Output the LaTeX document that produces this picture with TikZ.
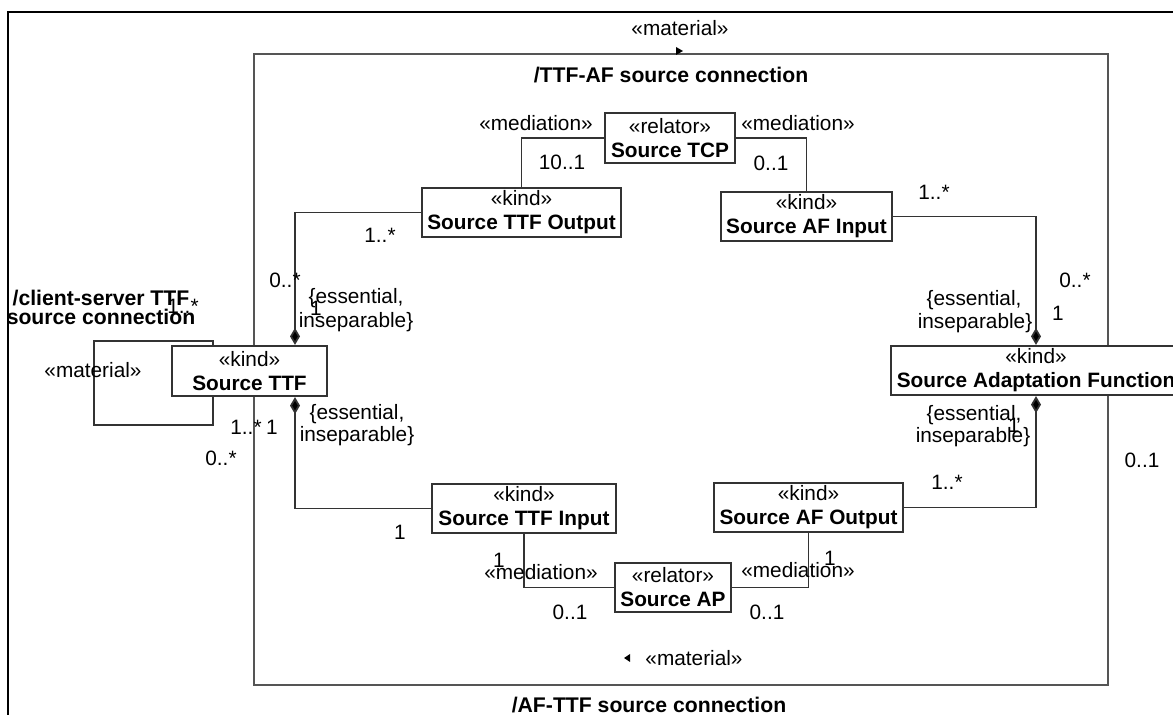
\documentclass[tikz,border=0pt]{standalone}
\usepackage{fontspec}
\setmainfont{Liberation Sans}
\usetikzlibrary{arrows.meta}
\definecolor{boxline}{HTML}{333333}
\definecolor{frameline}{HTML}{555555}
\tikzset{
  lbl/.style={inner sep=0pt, font=\fontsize{10.4}{12}\selectfont},
  ttl/.style={inner sep=0pt, font=\fontsize{10.6}{11}\selectfont\bfseries},
  cls/.style={draw=boxline, line width=1.1pt, fill=white, inner sep=0pt,
    align=center, font=\fontsize{10.4}{12}\selectfont},
  conn/.style={draw=boxline, line width=0.9pt},
  comp/.tip={Diamond[length=8.5pt,width=5pt,fill=black]},
}
\begin{document}
\begin{tikzpicture}[x=0.5pt,y=-0.5pt]
\useasboundingbox (0,0) rectangle (1173,715);
\clip (0,0) rectangle (1173,715);

% page frame
\draw[black, line width=0.9pt] (8,715) -- (8,12) -- (1173,12);

% derived relation container
\draw[frameline, line width=1.4pt] (254,54) rectangle (1108,685);

% classes
\node[cls, minimum width=65pt, minimum height=25pt] (tcp) at (670,138)
  {«relator»\\\textbf{Source TCP}};
\node[cls, minimum width=99.5pt, minimum height=24.5pt] (ttfout) at (521.5,212.5)
  {«kind»\\\textbf{Source TTF Output}};
\node[cls, minimum width=85.5pt, minimum height=24.5pt] (afin) at (806.5,216.5)
  {«kind»\\\textbf{Source AF Input}};
\node[cls, minimum width=77.5pt, minimum height=25pt] (sttf) at (249.5,371)
  {«kind»\\\textbf{Source TTF}};
\node[cls, minimum width=145pt, minimum height=24.5pt] (saf) at (1036,370.5)
  {«kind»\\\textbf{Source Adaptation Function}};
\node[cls, minimum width=92pt, minimum height=24.5pt] (ttfin) at (524,508.5)
  {«kind»\\\textbf{Source TTF Input}};
\node[cls, minimum width=94.5pt, minimum height=24.5pt] (afout) at (808.5,507.5)
  {«kind»\\\textbf{Source AF Output}};
\node[cls, minimum width=58pt, minimum height=24.5pt] (ap) at (673,587.5)
  {«relator»\\\textbf{Source AP}};

% helper columns
\coordinate (cL) at (295,0);
\coordinate (lp) at (213,341);
\coordinate (lq) at (94,341);
\coordinate (lr) at (94,425);
\coordinate (ls) at (213,425);

% mediations
\draw[conn] (tcp.west) -| (ttfout.north);
\draw[conn] (tcp.east) -| (afin.north);
\draw[conn] (ttfin.south) |- (ap.west);
\draw[conn] (afout.south) |- (ap.east);

% compositions
\draw[conn, -comp] (ttfout.west) -| (cL |- sttf.north);
\draw[conn, comp-] (cL |- sttf.south) |- (ttfin.west);
\draw[conn, -comp] (afin.east) -| (saf.north);
\draw[conn, comp-] (saf.south) |- (afout.east);

% self material relation
\draw[conn] (sttf.north -| lp) -- (lp) -- (lq) -- (lr) -- (ls) -- (sttf.south -| ls);

% reading direction marks
\fill[black] (676,47) -- (683,51) -- (676,55) -- cycle;
\fill[black] (630,654) -- (624,658) -- (630,662) -- cycle;

% titles
\node[ttl] (t1) at (671,75) {/TTF-AF source connection};
\node[ttl] (t2) at (649,705) {/AF-TTF source connection};
\node[ttl] (t3a) at (101,298) {/client-server TTF};
\node[ttl] (t3b) at (101,317) {source connection};

% stereotypes
\node[lbl] (m1) at (680,28) {«material»};
\node[lbl] (m2) at (694,658) {«material»};
\node[lbl] (m3) at (93,370) {«material»};
\node[lbl] (md1) at (536,123) {«mediation»};
\node[lbl] (md2) at (798,123) {«mediation»};
\node[lbl] (md3) at (541,572) {«mediation»};
\node[lbl] (md4) at (798,570) {«mediation»};

% constraints
\node[lbl] (e1) at (356,298) {\{essential,};
\node[lbl] (e2) at (356,322) {inseparable\}};
\node[lbl] (e3) at (357,414) {\{essential,};
\node[lbl] (e4) at (357,436) {inseparable\}};
\node[lbl] (e5) at (974,300) {\{essential,};
\node[lbl] (e6) at (975,323) {inseparable\}};
\node[lbl] (e7) at (974,415) {\{essential,};
\node[lbl] (e8) at (973,437) {inseparable\}};

% multiplicities
\node[lbl] (n1) at (562,162) {10..1};
\node[lbl] (n2) at (771,163) {0..1};
\node[lbl] (n3) at (380,235) {1..*};
\node[lbl] (n4) at (934,192) {1..*};
\node[lbl] (n5) at (285,280) {0..*};
\node[lbl] (n6) at (316,308) {1};
\node[lbl] (n7) at (183,306) {1..*};
\node[lbl] (n8) at (246,427) {1..*};
\node[lbl] (n9) at (272,427) {1};
\node[lbl] (n10) at (221,458) {0..*};
\node[lbl] (n11) at (1075,280) {0..*};
\node[lbl] (n12) at (1058,313) {1};
\node[lbl] (n13) at (1014,425) {1};
\node[lbl] (n14) at (1142,460) {0..1};
\node[lbl] (n15) at (947,482) {1..*};
\node[lbl] (n16) at (400,532) {1};
\node[lbl] (n17) at (499,560) {1};
\node[lbl] (n18) at (570,612) {0..1};
\node[lbl] (n19) at (830,558) {1};
\node[lbl] (n20) at (767,612) {0..1};
\end{tikzpicture}
\end{document}
